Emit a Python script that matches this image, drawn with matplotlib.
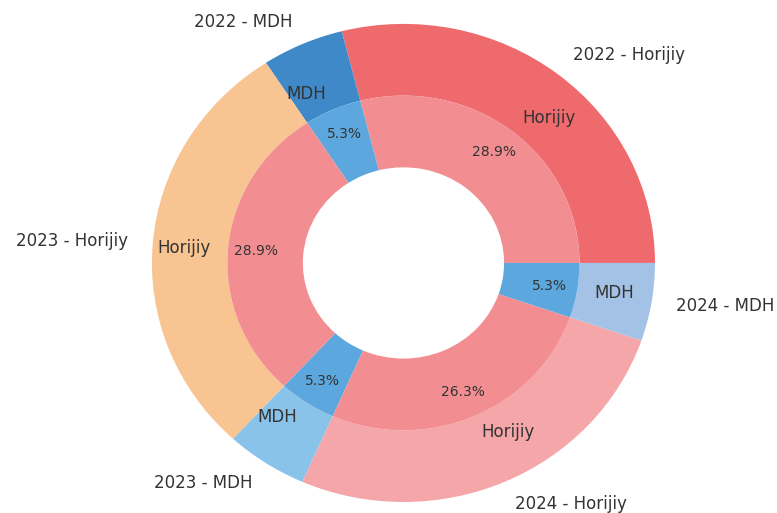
import matplotlib
matplotlib.use("Agg")
import matplotlib.pyplot as plt

outer_labels = ["2022 - Horijiy", "2022 - MDH", "2023 - Horijiy", "2023 - MDH",
                "2024 - Horijiy", "2024 - MDH"]
outer_values = [11, 2, 11, 2, 10, 2]
outer_colors = ["#EF6A6D", "#3F89C8", "#F8C492", "#8AC3EA", "#F5A6A9", "#A3C2E5"]

inner_labels = ["Horijiy", "MDH", "Horijiy", "MDH", "Horijiy", "MDH"]
inner_values = [11, 2, 11, 2, 10, 2]
inner_colors = ["#F28E92", "#5CA8DE", "#F28E92", "#5CA8DE", "#F28E92", "#5CA8DE"]

fig = plt.figure(figsize=(7.77, 5.13), dpi=100)
ax = fig.add_axes([0, 0, 1, 1])

text_color = "#333333"
ax.pie(outer_values, labels=outer_labels, colors=outer_colors, radius=1.0,
       startangle=0, counterclock=True, labeldistance=1.1,
       wedgeprops=dict(width=0.3, linewidth=0),
       textprops=dict(fontsize=12, color=text_color))
ax.pie(inner_values, labels=inner_labels, colors=inner_colors, radius=0.7,
       startangle=0, counterclock=True, labeldistance=1.1,
       autopct="%1.1f%%", pctdistance=0.84,
       wedgeprops=dict(width=0.3, linewidth=0),
       textprops=dict(fontsize=12, color=text_color))

for t in ax.texts:
    if t.get_text().endswith("%"):
        t.set_fontsize(10)

ax.set_aspect("auto")
ax.set_xlim(-1.604, 1.485)
ax.set_ylim(-1.046, 1.100)
ax.axis("off")

fig.savefig("out.png", dpi=100)
